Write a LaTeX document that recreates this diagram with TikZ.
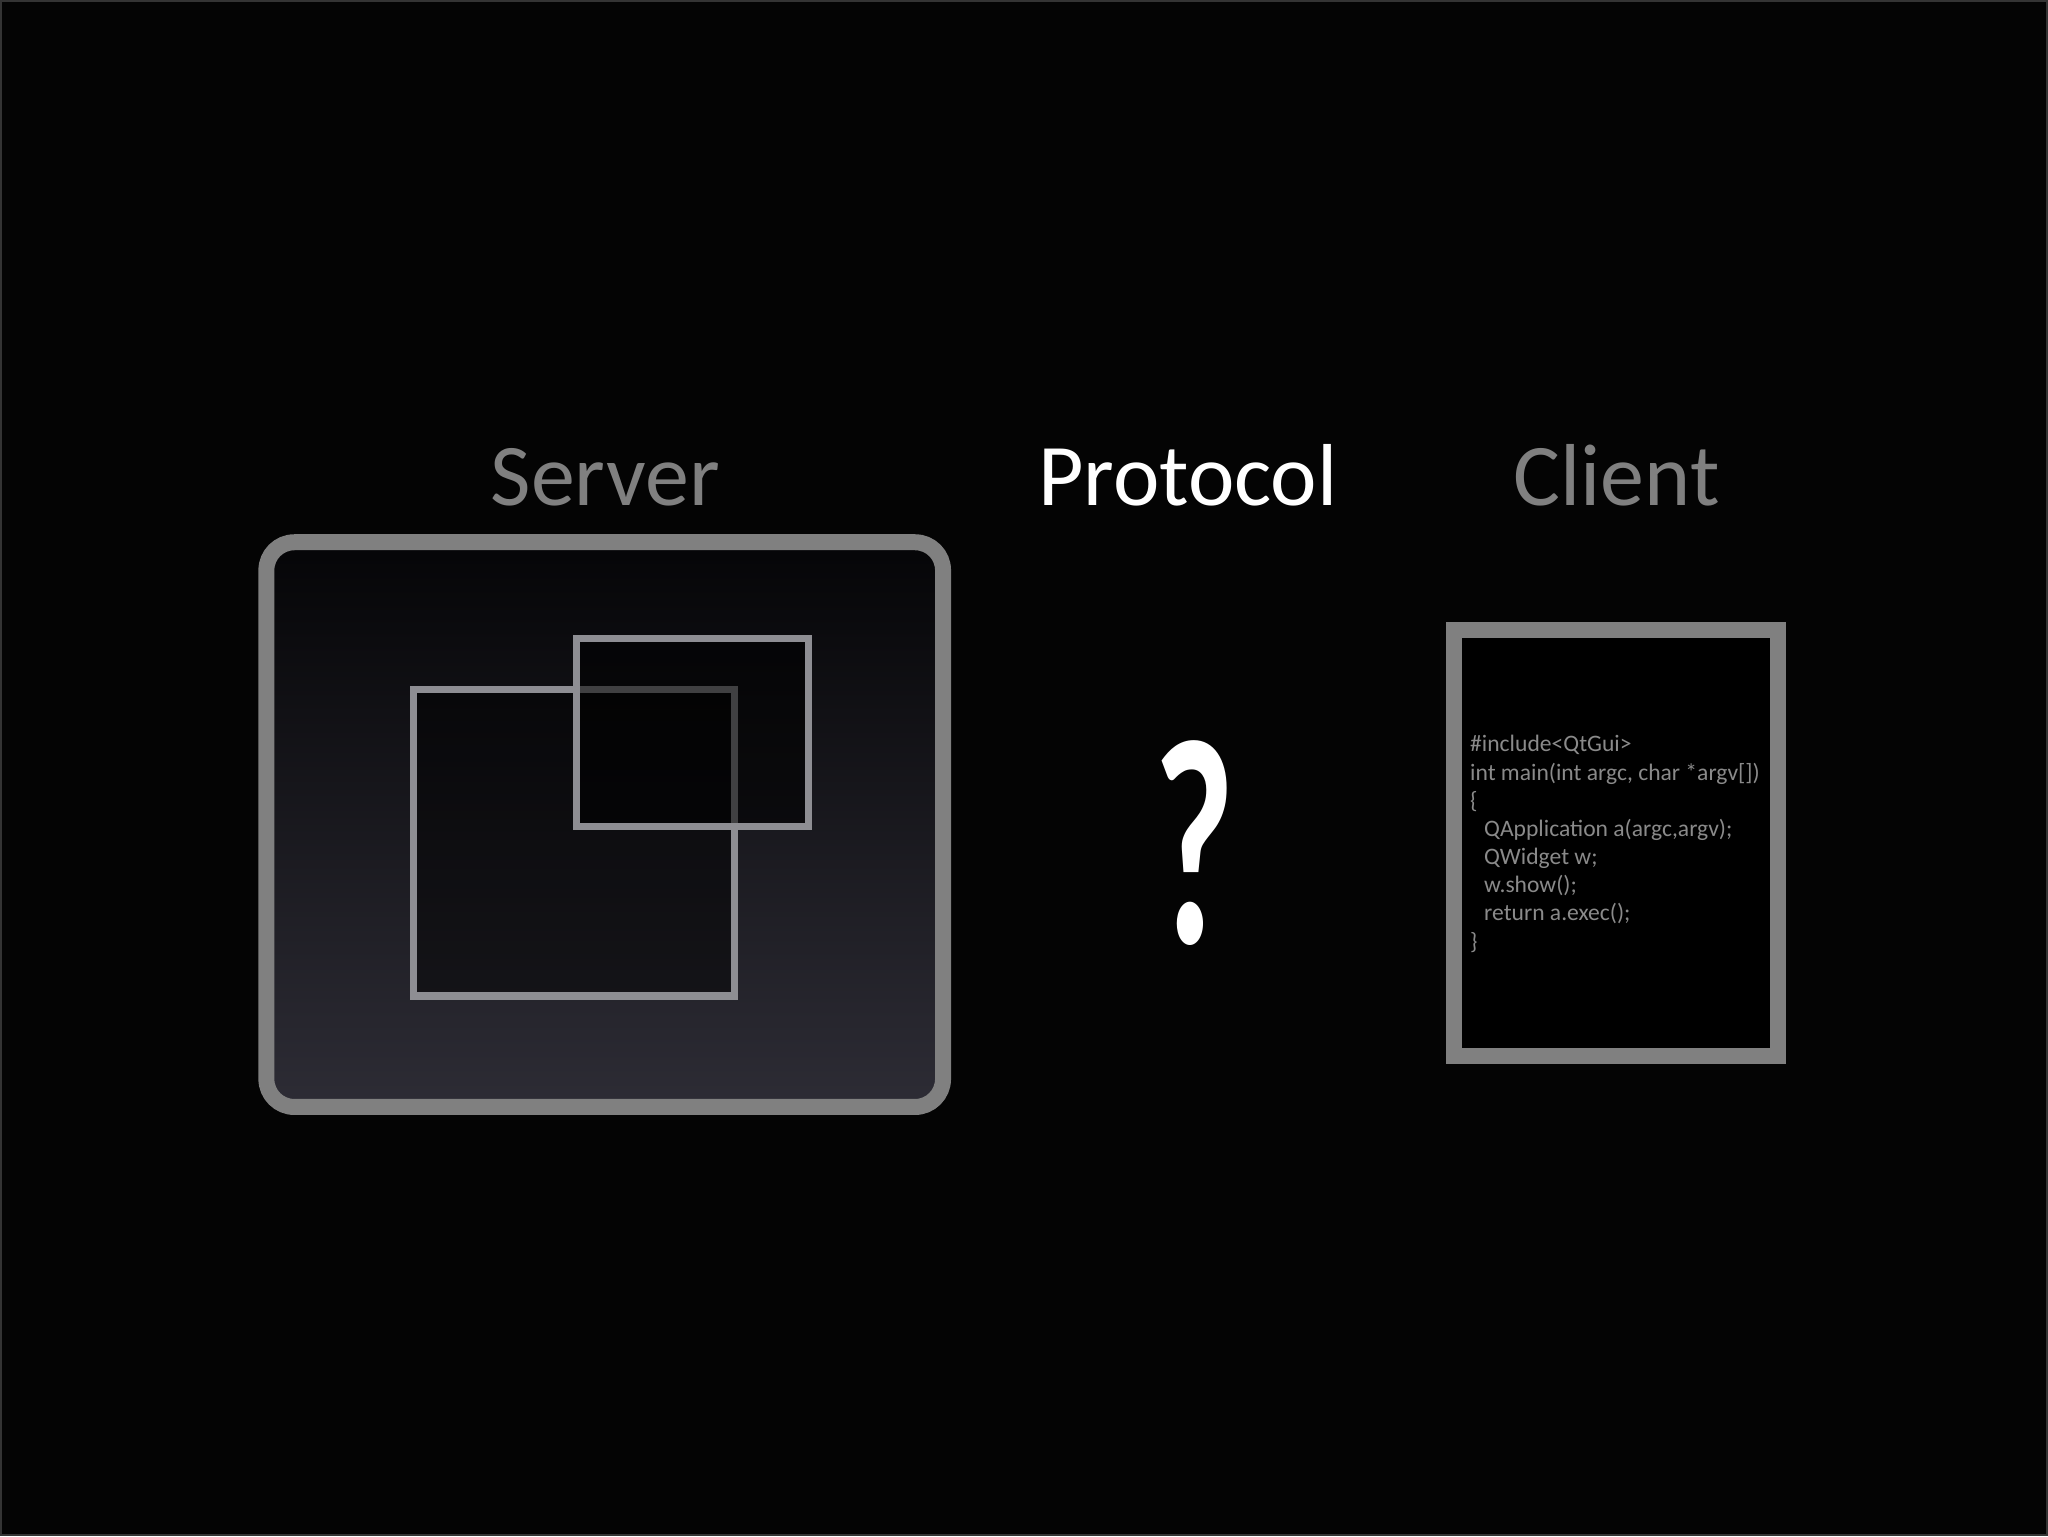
\documentclass[tikz,border=0pt]{standalone}
\usepackage{fontspec}
\setmainfont{Carlito}
\definecolor{bg}{RGB}{4,4,4}
\definecolor{edgegray}{RGB}{52,52,52}
\definecolor{boxgray}{RGB}{128,128,128}
\definecolor{sqgray}{RGB}{142,142,147}
\definecolor{codegray}{RGB}{138,138,138}
\definecolor{shtop}{RGB}{5,5,7}
\definecolor{shmid}{RGB}{15,15,19}
\definecolor{shbot}{RGB}{45,44,53}
\tikzset{
  title/.style={anchor=base, inner sep=0pt, font=\fontsize{44}{48}\selectfont},
  codeline/.style={anchor=base west, inner sep=0pt, text=codegray, font=\fontsize{11.8}{14}\selectfont},
  frame/.style={draw=boxgray, line width=8pt},
  win/.style={draw=sqgray, line width=3.6pt, fill=black},
}
\begin{document}
\begin{tikzpicture}[x=0.5pt,y=-0.5pt]
\fill[bg] (0,0) rectangle (2048,1536);
\draw[edgegray, line width=1pt] (0.5,0.5) rectangle (2047.5,1535.5);
\useasboundingbox (0,0) rectangle (2048,1536);

% titles
\node[title, text=boxgray] (server) at (605,505) {Server};
\node[title, text=white] (protocol) at (1188,505) {Protocol};
\node[title, text=boxgray] (client) at (1617,505) {Client};

% server screen
\shade[top color=shtop, middle color=shmid, bottom color=shbot, rounded corners=14pt]
  (266,542) rectangle (943,1107);
\draw[win, fill opacity=0.45] (413.5,689) rectangle (734,996);
\draw[win, fill opacity=0.55] (576,638) rectangle (808,826);
\draw[frame, rounded corners=14pt] (266,542) rectangle (943,1107);

% question mark
\node[inner sep=0pt, anchor=base, text=white, xscale=0.6,
      font=\bfseries\fontsize{147}{150}\selectfont] (qmark) at (1194,943) {?};

% client code page
\fill[black] (1454,630) rectangle (1778,1056);
\draw[frame] (1454,630) rectangle (1778,1056);
\node[codeline] (c1) at (1470,751.7) {\#include<QtGui>};
\node[codeline] (c2) at (1470,779.9) {int main(int argc, char *argv[])};
\node[codeline] (c3) at (1470,808.1) {\{};
\node[codeline] (c4) at (1484,836.3) {QApplication a(argc,argv);};
\node[codeline] (c5) at (1484,864.5) {QWidget w;};
\node[codeline] (c6) at (1484,892.7) {w.show();};
\node[codeline] (c7) at (1484,920.9) {return a.exec();};
\node[codeline] (c8) at (1470,949.1) {\}};
\end{tikzpicture}
\end{document}
